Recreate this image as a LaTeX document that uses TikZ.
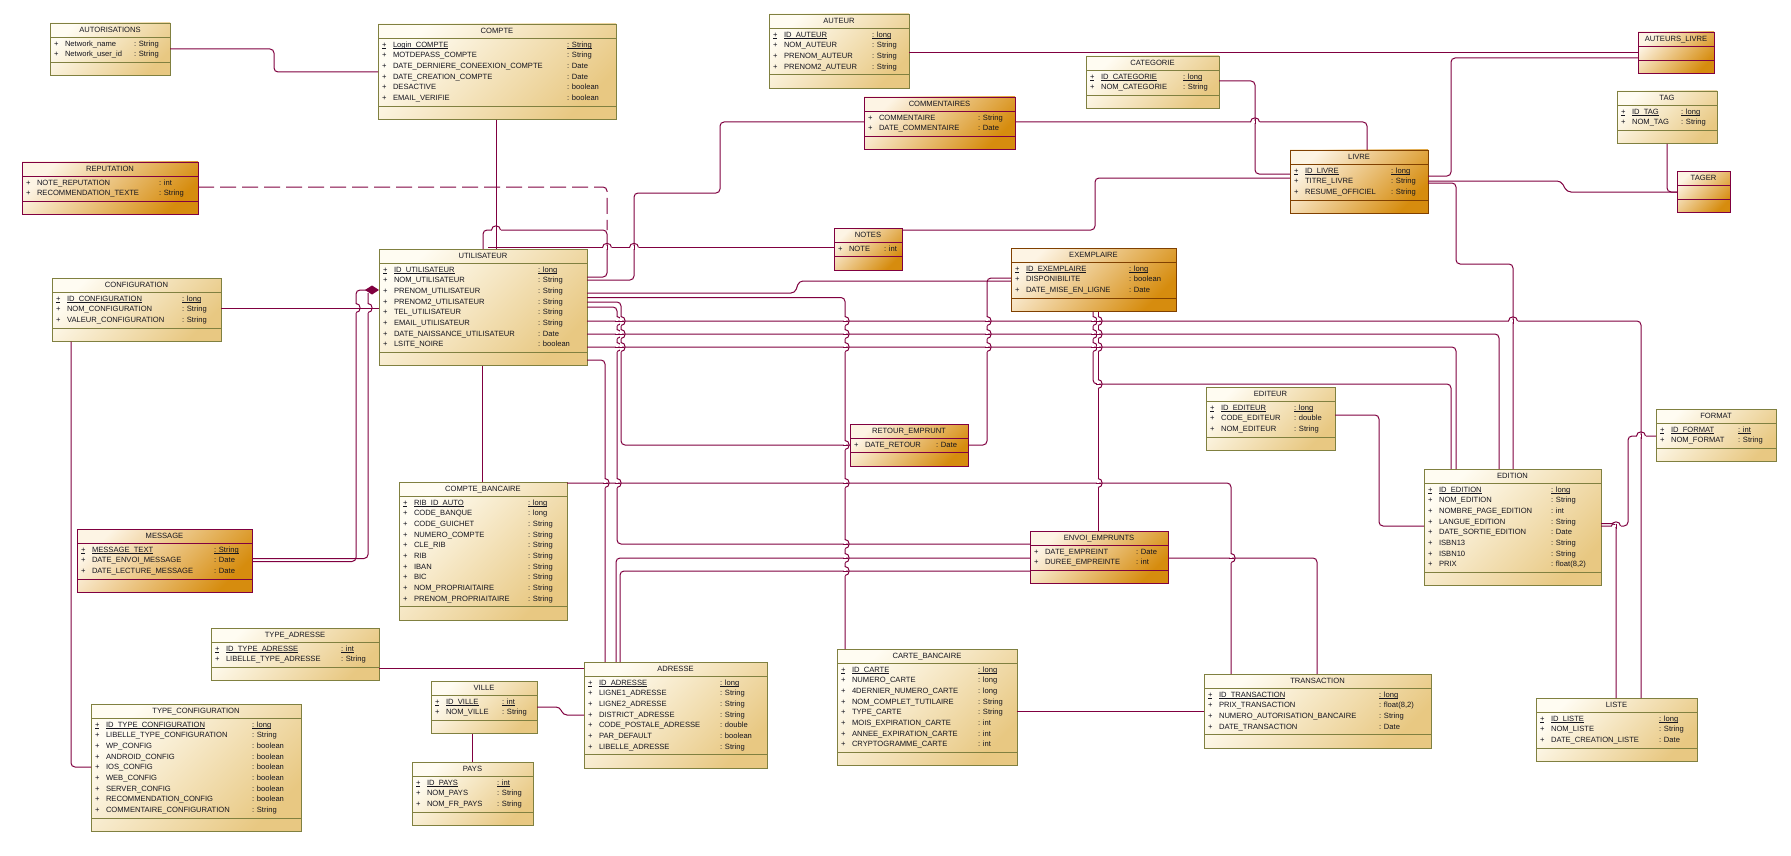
\documentclass[tikz,border=0pt]{standalone}
\usepackage{fontspec}
\setmainfont{Liberation Sans}
\usetikzlibrary{arrows.meta}
\definecolor{lnc}{RGB}{128,0,64}
\definecolor{olv}{RGB}{128,128,64}
\definecolor{brn}{RGB}{128,64,0}
\definecolor{plA}{RGB}{255,252,242}
\definecolor{plB}{RGB}{232,200,130}
\definecolor{orA}{RGB}{253,244,228}
\definecolor{orB}{RGB}{214,140,14}
\definecolor{txc}{RGB}{20,20,30}
\tikzset{
 plainbox/.style={draw=olv, line width=0.9pt, top color=plA, bottom color=plB, shading angle=45},
 orangebox/.style={draw=lnc, line width=0.9pt, top color=orA, bottom color=orB, shading angle=45},
 livrebox/.style={draw=brn, line width=0.9pt, top color=orA, bottom color=orB, shading angle=45},
 plainbox-sep/.style={draw=olv, line width=0.9pt},
 orangebox-sep/.style={draw=lnc, line width=0.9pt},
 livrebox-sep/.style={draw=brn, line width=0.9pt},
 conn/.style={draw=lnc, line width=1pt, rounded corners=4pt},
 hopline/.style={draw=lnc, line width=1pt},
 eraser/.style={draw=white, line width=2.6pt},
 dashconn/.style={conn, dash pattern=on 16pt off 6pt},
 uline/.style={draw=txc, line width=0.5pt},
 txt/.style={inner sep=0pt, outer sep=0pt, anchor=base west, text=txc, font=\fontsize{7.6}{9}\selectfont},
 ttl/.style={inner sep=0pt, outer sep=0pt, anchor=base, text=txc, font=\fontsize{7.6}{9}\selectfont},
}
\newcommand\umlbox[8]{%
  \pgfmathsetmacro\hbY{#3+14}%
  \ifnum#5=0 \pgfmathsetmacro\abY{\hbY+14}\else\pgfmathsetmacro\abY{\hbY+#5*10.67+4}\fi
  \pgfmathsetmacro\ybY{\abY+13.5}%
  \pgfmathsetmacro\wW{#4-#2}%
  \pgfmathsetmacro\hH{\ybY-#3}%
  \node[#6, inner sep=0pt, outer sep=0pt, anchor=north west, minimum width=\wW pt, minimum height=\hH pt] (#1) at (#2,#3) {};
  \draw[#6-sep] (#2,\hbY) -- (#4,\hbY) (#2,\abY) -- (#4,\abY);
  \pgfmathsetmacro\tY{(#3+\hbY)/2+2.8}%
  \node[ttl] (#1-title) at ({(#2+#4)/2},\tY) {#8};
  \xdef\curX{#2}\xdef\curTX{#7}\xdef\curHB{\hbY}\xdef\curID{#1}%
}
\newcommand\attrrow[3]{%
  \pgfmathsetmacro\rY{\curHB+6.5+(#1-1)*10.67+2.8}%
  \node[txt] (\curID-p#1) at (\curX+4,\rY) {+};
  \node[txt] (\curID-n#1) at (\curX+15,\rY) {#2};
  \node[txt] (\curID-t#1) at (\curTX,\rY) {: #3};
}
\newcommand\keyrow[3]{%
  \attrrow{#1}{#2}{#3}%
  \edef\nmP{\curID-p#1}\edef\nmN{\curID-n#1}\edef\nmT{\curID-t#1}%
  \draw[uline] ([yshift=-1.3pt]\nmP.base west) -- ([yshift=-1.3pt]\nmP.base east);
  \draw[uline] ([yshift=-1.3pt]\nmN.base west) -- ([yshift=-1.3pt]\nmN.base east);
  \draw[uline] ([yshift=-1.3pt]\nmT.base west) -- ([yshift=-1.3pt]\nmT.base east);
}
% vertical line at x hops over a horizontal line at y
\newcommand\vhop[2]{%
  \draw[eraser] (#1,#2-4.5) -- (#1,#2+4.5);
  \draw[hopline] (#1-2.5,#2) -- (#1+2.5,#2);
  \draw[hopline] (#1,#2-4.5) .. controls (#1+5.5,#2-4.5) and (#1+5.5,#2+4.5) .. (#1,#2+4.5);
}
% horizontal line at y hops over a vertical line at x
\newcommand\hhop[2]{%
  \draw[eraser] (#1-4.5,#2) -- (#1+4.5,#2);
  \draw[hopline] (#1,#2-2.5) -- (#1,#2+2.5);
  \draw[hopline] (#1-4.5,#2) .. controls (#1-4.5,#2-5.5) and (#1+4.5,#2-5.5) .. (#1+4.5,#2);
}
\begin{document}
\begin{tikzpicture}[x=1pt,y=-1pt]
\useasboundingbox (0,0) rectangle (1791,856);
\fill[white] (0,0) rectangle (1791,856);

% ---------- classes ----------
\umlbox{autor}{50}{23}{170}{2}{plainbox}{134}{AUTORISATIONS}
\attrrow{1}{Network\_name}{String}
\attrrow{2}{Network\_user\_id}{String}

\umlbox{compte}{378}{24}{616}{6}{plainbox}{567}{COMPTE}
\keyrow{1}{Login\_COMPTE}{String}
\attrrow{2}{MOTDEPASS\_COMPTE}{String}
\attrrow{3}{DATE\_DERNIERE\_CONEEXION\_COMPTE}{Date}
\attrrow{4}{DATE\_CREATION\_COMPTE}{Date}
\attrrow{5}{DESACTIVE}{boolean}
\attrrow{6}{EMAIL\_VERIFIE}{boolean}

\umlbox{auteur}{769}{14}{909}{4}{plainbox}{872}{AUTEUR}
\keyrow{1}{ID\_AUTEUR}{long}
\attrrow{2}{NOM\_AUTEUR}{String}
\attrrow{3}{PRENOM\_AUTEUR}{String}
\attrrow{4}{PRENOM2\_AUTEUR}{String}

\umlbox{categ}{1086}{56}{1219}{2}{plainbox}{1183}{CATEGORIE}
\keyrow{1}{ID\_CATEGORIE}{long}
\attrrow{2}{NOM\_CATEGORIE}{String}

\umlbox{comm}{864}{97}{1015}{2}{orangebox}{978}{COMMENTAIRES}
\attrrow{1}{COMMENTAIRE}{String}
\attrrow{2}{DATE\_COMMENTAIRE}{Date}

\umlbox{reput}{22}{162}{198}{2}{orangebox}{159}{REPUTATION}
\attrrow{1}{NOTE\_REPUTATION}{int}
\attrrow{2}{RECOMMENDATION\_TEXTE}{String}

\umlbox{livre}{1290}{150}{1428}{3}{livrebox}{1391}{LIVRE}
\keyrow{1}{ID\_LIVRE}{long}
\attrrow{2}{TITRE\_LIVRE}{String}
\attrrow{3}{RESUME\_OFFICIEL}{String}

\umlbox{autlivre}{1638}{32}{1714}{0}{orangebox}{0}{AUTEURS\_LIVRE}

\umlbox{tag}{1617}{91}{1717}{2}{plainbox}{1681}{TAG}
\keyrow{1}{ID\_TAG}{long}
\attrrow{2}{NOM\_TAG}{String}

\umlbox{tager}{1677}{171}{1730}{0}{orangebox}{0}{TAGER}

\umlbox{notes}{834}{228}{902}{1}{orangebox}{884}{NOTES}
\attrrow{1}{NOTE}{int}

\umlbox{util}{379}{249}{587}{8}{plainbox}{538}{UTILISATEUR}
\keyrow{1}{ID\_UTILISATEUR}{long}
\attrrow{2}{NOM\_UTILISATEUR}{String}
\attrrow{3}{PRENOM\_UTILISATEUR}{String}
\attrrow{4}{PRENOM2\_UTILISATEUR}{String}
\attrrow{5}{TEL\_UTILISATEUR}{String}
\attrrow{6}{EMAIL\_UTILISATEUR}{String}
\attrrow{7}{DATE\_NAISSANCE\_UTILISATEUR}{Date}
\attrrow{8}{LSITE\_NOIRE}{boolean}

\umlbox{config}{52}{278}{221}{3}{plainbox}{182}{CONFIGURATION}
\keyrow{1}{ID\_CONFIGURATION}{long}
\attrrow{2}{NOM\_CONFIGURATION}{String}
\attrrow{3}{VALEUR\_CONFIGURATION}{String}

\umlbox{exemp}{1011}{248}{1176}{3}{livrebox}{1129}{EXEMPLAIRE}
\keyrow{1}{ID\_EXEMPLAIRE}{long}
\attrrow{2}{DISPONIBILITE}{boolean}
\attrrow{3}{DATE\_MISE\_EN\_LIGNE}{Date}

\umlbox{editeur}{1206}{387}{1335}{3}{plainbox}{1294}{EDITEUR}
\keyrow{1}{ID\_EDITEUR}{long}
\attrrow{2}{CODE\_EDITEUR}{double}
\attrrow{3}{NOM\_EDITEUR}{String}

\umlbox{retour}{850}{424}{968}{1}{orangebox}{936}{RETOUR\_EMPRUNT}
\attrrow{1}{DATE\_RETOUR}{Date}

\umlbox{format}{1656}{409}{1776}{2}{plainbox}{1738}{FORMAT}
\keyrow{1}{ID\_FORMAT}{int}
\attrrow{2}{NOM\_FORMAT}{String}

\umlbox{edition}{1424}{469}{1601}{8}{plainbox}{1551}{EDITION}
\keyrow{1}{ID\_EDITION}{long}
\attrrow{2}{NOM\_EDITION}{String}
\attrrow{3}{NOMBRE\_PAGE\_EDITION}{int}
\attrrow{4}{LANGUE\_EDITION}{String}
\attrrow{5}{DATE\_SORTIE\_EDITION}{Date}
\attrrow{6}{ISBN13}{String}
\attrrow{7}{ISBN10}{String}
\attrrow{8}{PRIX}{float(8,2)}

\umlbox{cb}{399}{482}{567}{10}{plainbox}{528}{COMPTE\_BANCAIRE}
\keyrow{1}{RIB\_ID\_AUTO}{long}
\attrrow{2}{CODE\_BANQUE}{long}
\attrrow{3}{CODE\_GUICHET}{String}
\attrrow{4}{NUMERO\_COMPTE}{String}
\attrrow{5}{CLE\_RIB}{String}
\attrrow{6}{RIB}{String}
\attrrow{7}{IBAN}{String}
\attrrow{8}{BIC}{String}
\attrrow{9}{NOM\_PROPRIAITAIRE}{String}
\attrrow{10}{PRENOM\_PROPRIAITAIRE}{String}

\umlbox{msg}{77}{529}{252}{3}{orangebox}{214}{MESSAGE}
\keyrow{1}{MESSAGE\_TEXT}{String}
\attrrow{2}{DATE\_ENVOI\_MESSAGE}{Date}
\attrrow{3}{DATE\_LECTURE\_MESSAGE}{Date}

\umlbox{envoi}{1030}{531}{1168}{2}{orangebox}{1136}{ENVOI\_EMPRUNTS}
\attrrow{1}{DATE\_EMPREINT}{Date}
\attrrow{2}{DUREE\_EMPREINTE}{int}

\umlbox{tadr}{211}{628}{379}{2}{plainbox}{341}{TYPE\_ADRESSE}
\keyrow{1}{ID\_TYPE\_ADRESSE}{int}
\attrrow{2}{LIBELLE\_TYPE\_ADRESSE}{String}

\umlbox{tconf}{91}{704}{301}{9}{plainbox}{252}{TYPE\_CONFIGURATION}
\keyrow{1}{ID\_TYPE\_CONFIGURATION}{long}
\attrrow{2}{LIBELLE\_TYPE\_CONFIGURATION}{String}
\attrrow{3}{WP\_CONFIG}{boolean}
\attrrow{4}{ANDROID\_CONFIG}{boolean}
\attrrow{5}{IOS\_CONFIG}{boolean}
\attrrow{6}{WEB\_CONFIG}{boolean}
\attrrow{7}{SERVER\_CONFIG}{boolean}
\attrrow{8}{RECOMMENDATION\_CONFIG}{boolean}
\attrrow{9}{COMMENTAIRE\_CONFIGURATION}{String}

\umlbox{ville}{431}{681}{537}{2}{plainbox}{502}{VILLE}
\keyrow{1}{ID\_VILLE}{int}
\attrrow{2}{NOM\_VILLE}{String}

\umlbox{pays}{412}{762}{533}{3}{plainbox}{497}{PAYS}
\keyrow{1}{ID\_PAYS}{int}
\attrrow{2}{NOM\_PAYS}{String}
\attrrow{3}{NOM\_FR\_PAYS}{String}

\umlbox{adresse}{584}{662}{767}{7}{plainbox}{720}{ADRESSE}
\keyrow{1}{ID\_ADRESSE}{long}
\attrrow{2}{LIGNE1\_ADRESSE}{String}
\attrrow{3}{LIGNE2\_ADRESSE}{String}
\attrrow{4}{DISTRICT\_ADRESSE}{String}
\attrrow{5}{CODE\_POSTALE\_ADRESSE}{double}
\attrrow{6}{PAR\_DEFAULT}{boolean}
\attrrow{7}{LIBELLE\_ADRESSE}{String}

\umlbox{carte}{837}{649}{1017}{8}{plainbox}{978}{CARTE\_BANCAIRE}
\keyrow{1}{ID\_CARTE}{long}
\attrrow{2}{NUMERO\_CARTE}{long}
\attrrow{3}{4DERNIER\_NUMERO\_CARTE}{long}
\attrrow{4}{NOM\_COMPLET\_TUTILAIRE}{String}
\attrrow{5}{TYPE\_CARTE}{String}
\attrrow{6}{MOIS\_EXPIRATION\_CARTE}{int}
\attrrow{7}{ANNEE\_EXPIRATION\_CARTE}{int}
\attrrow{8}{CRYPTOGRAMME\_CARTE}{int}

\umlbox{trans}{1204}{674}{1431}{4}{plainbox}{1379}{TRANSACTION}
\keyrow{1}{ID\_TRANSACTION}{long}
\attrrow{2}{PRIX\_TRANSACTION}{float(8,2)}
\attrrow{3}{NUMERO\_AUTORISATION\_BANCAIRE}{String}
\attrrow{4}{DATE\_TRANSACTION}{Date}

\umlbox{liste}{1536}{698}{1697}{3}{plainbox}{1659}{LISTE}
\keyrow{1}{ID\_LISTE}{long}
\attrrow{2}{NOM\_LISTE}{String}
\attrrow{3}{DATE\_CREATION\_LISTE}{Date}

% ---------- connectors ----------
\coordinate (nj) at (488,247.5);
\draw[conn] (autor.east |- 0,49) -- (274,49) -- (274,72) -- (compte.west |- 0,72);
\draw[conn] (compte.south -| 496,0) -- (util.north -| 496,0);
\draw[conn] (util.north -| 483,0) -- (483,230) -- (607,230) -- (607,277) -- (util.east |- 0,277);
\draw[dashconn] (reput.east |- 0,187) -- (607,187) -- (607,230);
\draw[conn] (notes.west |- 0,247.5) -- (nj);
\draw[conn] (notes.east |- 0,230) -- (1095,230) -- (1095,178) -- (livre.west |- 0,178);
\draw[conn] (comm.west |- 0,122) -- (720,122) -- (720,193) -- (634,193) -- (634,280) -- (util.east |- 0,280);
\draw[conn] (comm.east |- 0,122) -- (1367,122) -- (livre.north -| 1367,0);
\draw[conn] (auteur.east |- 0,52.5) -- (autlivre.west |- 0,52.5);
\draw[conn] (livre.east |- 0,176) -- (1451,176) -- (1451,58) -- (autlivre.west |- 0,58);
\draw[conn] (categ.east |- 0,81) -- (1255,81) -- (1255,174) -- (livre.west |- 0,174);
\draw[conn] (livre.east |- 0,181) -- (1561,181) -- (1567,192) -- (tager.west |- 0,192);
\draw[conn] (tag.south -| 1667,0) -- (1667,192) -- (tager.west |- 0,192);
\draw[conn] (livre.east |- 0,183) -- (1456,183) -- (1456,264) -- (1513,264) -- (edition.north -| 1513,0);
\draw[conn] (util.east |- 0,293) -- (795,293) -- (799,281) -- (exemp.west |- 0,281);
\draw[conn] (retour.east |- 0,445) -- (987,445) -- (987,278) -- (exemp.west |- 0,278);
\draw[conn] (util.east |- 0,297.5) -- (845,297.5) -- (carte.north -| 845,0);
\draw[conn] (util.east |- 0,302) -- (621,302) -- (621,445) -- (retour.west |- 0,445);
\draw[conn] (util.east |- 0,307) -- (617,307) -- (617,544) -- (envoi.west |- 0,544);
\draw[conn] (util.east |- 0,321) -- (1641,321) -- (liste.north -| 1641,0);
\draw[conn] (util.east |- 0,334) -- (1499,334) -- (edition.north -| 1499,0);
\draw[conn] (util.east |- 0,347) -- (1456,347) -- (edition.north -| 1456,0);
\draw[conn] (util.east |- 0,360) -- (605,360) -- (adresse.north -| 605,0);
\draw[conn] (exemp.south -| 1098,0) -- (envoi.north -| 1098,0);
\draw[conn] (exemp.south -| 1093,0) -- (1093,384) -- (1451,384) -- (edition.north -| 1451,0);
\draw[conn] (cb.east |- 0,483) -- (1231,483) -- (trans.north -| 1231,0);
\draw[conn] (envoi.east |- 0,558) -- (1317,558) -- (trans.north -| 1317,0);
\draw[conn] (adresse.north -| 616,0) -- (616,558) -- (envoi.west |- 0,558);
\draw[conn] (adresse.north -| 620,0) -- (620,571) -- (envoi.west |- 0,571);
\draw[conn] (util.south -| 482,0) -- (cb.north -| 482,0);
\draw[conn] (config.east |- 0,308) -- (util.west |- 0,308);
\draw[conn] (msg.east |- 0,558.5) -- (368,558.5) -- (368,293);
\draw[conn, -{Diamond[length=14pt,width=9pt]}] (msg.east |- 0,561.5) -- (356,561.5) -- (356,290) -- (util.west |- 0,290);
\draw[conn] (config.south -| 71,0) -- (71,767) -- (tconf.west |- 0,767);
\draw[conn] (tadr.east |- 0,668) -- (adresse.west |- 0,668);
\draw[conn] (ville.east |- 0,707) -- (560,707) -- (563,715) -- (adresse.west |- 0,715);
\draw[conn] (ville.south -| 472,0) -- (pays.north -| 472,0);
\draw[conn] (carte.east |- 0,711) -- (trans.west |- 0,711);
\draw[conn] (editeur.east |- 0,415) -- (1379,415) -- (1379,526) -- (edition.west |- 0,526);
\draw[conn] (format.west |- 0,436) -- (1628,436) -- (1628,526) -- (edition.east |- 0,526);
\draw[conn] (edition.east |- 0,523.5) -- (1616,523.5) -- (liste.north -| 1616,0);

% ---------- line jumps ----------
\foreach \hy in {321,334,347,445,483,544,558,571} {\vhop{845}{\hy}}
\foreach \hy in {321,334,347,483} {\vhop{617}{\hy}}
\foreach \hy in {321,334,347} {\vhop{621}{\hy}}
\vhop{605}{483}
\foreach \hy in {321,334,347} {\vhop{987}{\hy}}
\foreach \hy in {321,334,347} {\vhop{1093}{\hy}}
\foreach \hy in {321,334,347,384,483} {\vhop{1098}{\hy}}
\vhop{1231}{558}
\vhop{356}{308}
\vhop{368}{308}
\hhop{496}{230}
\hhop{607}{247.5}
\hhop{634}{247.5}
\hhop{1255}{122}
\hhop{1513}{321}
\hhop{1641}{436}
\hhop{1616}{526}
\end{tikzpicture}
\end{document}
